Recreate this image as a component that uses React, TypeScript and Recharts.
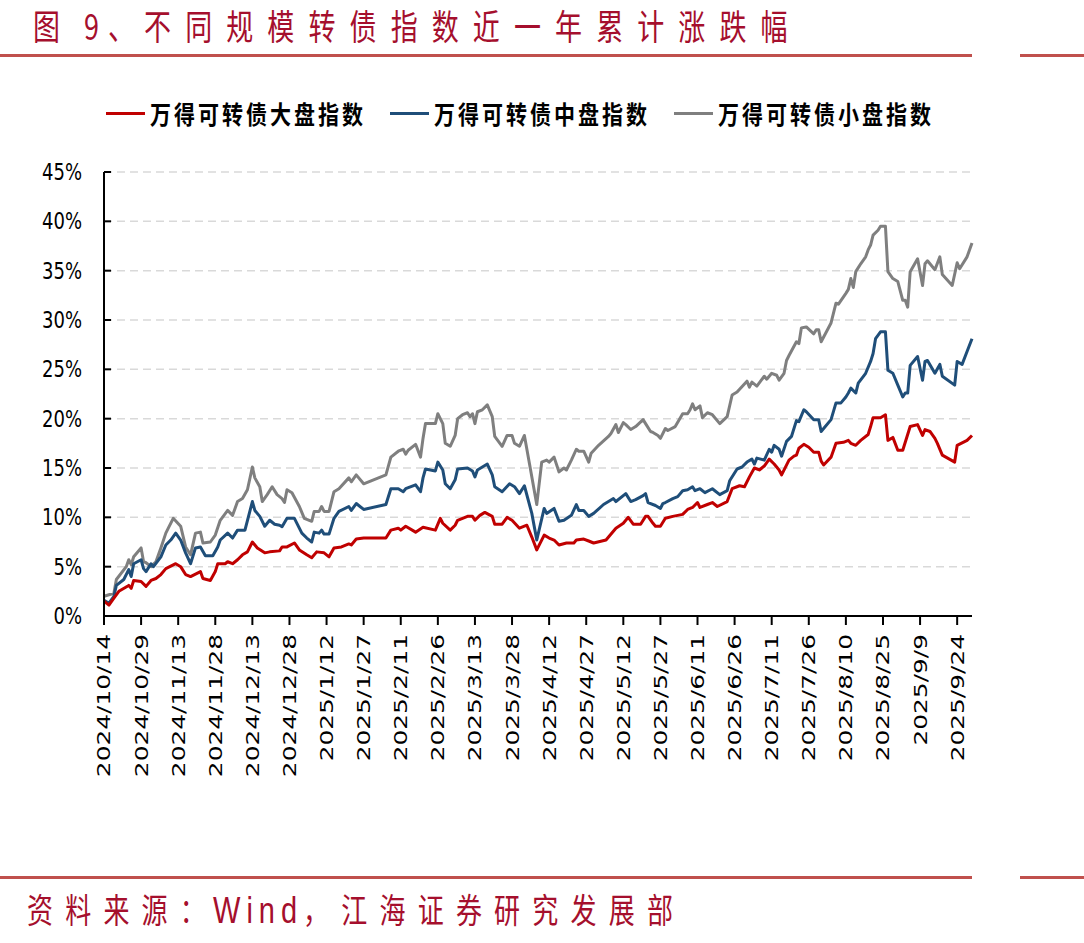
import React from "react";
import { LineChart, Line, XAxis, YAxis, CartesianGrid } from "recharts";

// ---------- data ----------
const xTickLabels = [
  "2024/10/14", "2024/10/29", "2024/11/13", "2024/11/28", "2024/12/13", "2024/12/28",
  "2025/1/12", "2025/1/27", "2025/2/11", "2025/2/26", "2025/3/13", "2025/3/28",
  "2025/4/12", "2025/4/27", "2025/5/12", "2025/5/27", "2025/6/11", "2025/6/26",
  "2025/7/11", "2025/7/26", "2025/8/10", "2025/8/25", "2025/9/9", "2025/9/24",
];
// days since 2024/10/14 for each tick label (every 15 calendar days)
const xTickDays = xTickLabels.map((_, i) => i * 15);
const lastDay = 351; // 2025/9/30
const yTicks = [0, 5, 10, 15, 20, 25, 30, 35, 40, 45];

// [days since 2024/10/14, cumulative change %]
const largeCap: [number, number][] = [
  [0, 1.5], [2, 1.1], [4, 1.8], [6, 2.5], [10, 3.1], [11, 2.8], [12, 3.6], [15, 3.5], [17, 3.0], [19, 3.6],
  [21, 3.8], [23, 4.2], [25, 4.8], [29, 5.3], [31, 5.0], [33, 4.2], [35, 4.0], [39, 4.5], [40, 3.8], [43, 3.6],
  [45, 4.5], [46, 5.3], [49, 5.3], [50, 5.5], [52, 5.3], [54, 5.7], [56, 6.2], [58, 6.5], [60, 7.5], [62, 6.9],
  [65, 6.4], [67, 6.5], [71, 6.6], [72, 7.0], [74, 7.0], [77, 7.4], [79, 6.7], [82, 6.2], [84, 5.9], [86, 6.5],
  [89, 6.4], [91, 6.0], [93, 6.9], [96, 7.0], [99, 7.3], [100, 7.2], [102, 7.8], [105, 7.9], [114, 7.9], [116, 8.7],
  [119, 8.9], [120, 8.7], [122, 9.1], [126, 8.5], [129, 9.0], [134, 8.7], [136, 9.9], [137, 9.4], [140, 8.7], [142, 9.2],
  [143, 9.7], [147, 10.1], [149, 10.1], [150, 9.7], [152, 10.2], [154, 10.5], [157, 10.1], [158, 9.3], [161, 9.3], [163, 10.0],
  [165, 9.7], [168, 8.9], [171, 9.2], [173, 8.0], [175, 6.7], [178, 8.2], [180, 7.9], [182, 7.7], [184, 7.2], [187, 7.4],
  [190, 7.4], [191, 7.7], [194, 7.8], [196, 7.6], [198, 7.4], [203, 7.7], [207, 8.9], [210, 9.4], [212, 10.0], [214, 9.3],
  [217, 9.3], [219, 10.1], [220, 10.1], [222, 9.4], [223, 9.1], [225, 9.1], [227, 9.9], [230, 10.1], [234, 10.3], [236, 10.8],
  [238, 11.0], [240, 11.5], [241, 11.0], [244, 11.3], [246, 11.5], [248, 11.1], [252, 11.6], [254, 12.9], [257, 13.2], [259, 13.1],
  [261, 14.1], [263, 15.0], [265, 14.8], [267, 15.2], [269, 15.9], [271, 15.4], [273, 14.8], [274, 14.3], [277, 15.8], [279, 16.2],
  [280, 16.3], [281, 17.0], [283, 17.4], [285, 17.1], [287, 16.6], [289, 16.6], [290, 15.7], [291, 15.3], [294, 16.1], [296, 17.5],
  [299, 17.6], [301, 17.8], [302, 17.5], [304, 17.3], [306, 17.8], [309, 18.4], [310, 19.2], [311, 20.1], [314, 20.1], [316, 20.4],
  [317, 17.8], [319, 18.1], [321, 16.8], [323, 16.8], [326, 19.2], [329, 19.4], [331, 18.3], [332, 18.9], [334, 18.7], [336, 18.0],
  [337, 17.5], [339, 16.3], [344, 15.6], [345, 17.3], [349, 17.8], [351, 18.3],
];

const midCap: [number, number][] = [
  [0, 1.6], [2, 1.3], [4, 2.0], [5, 3.1], [8, 3.7], [10, 4.7], [11, 4.0], [12, 5.3], [15, 5.7], [16, 4.8],
  [17, 4.5], [19, 5.3], [20, 5.0], [23, 6.0], [25, 7.2], [27, 7.7], [29, 8.4], [31, 7.7], [33, 6.4], [35, 5.3],
  [37, 6.9], [39, 7.0], [41, 6.1], [44, 6.1], [46, 7.0], [47, 7.7], [50, 8.4], [52, 7.9], [54, 8.7], [57, 8.7],
  [60, 11.6], [61, 10.7], [63, 10.1], [65, 9.1], [67, 9.7], [69, 9.3], [71, 9.2], [72, 9.05], [74, 9.9], [77, 9.9],
  [80, 8.4], [82, 7.9], [84, 7.5], [85, 8.5], [87, 8.4], [88, 8.7], [89, 8.3], [91, 8.3], [93, 9.9], [95, 10.6],
  [99, 11.1], [100, 10.7], [102, 11.4], [105, 10.8], [114, 11.3], [116, 12.9], [119, 12.9], [121, 12.6], [122, 12.9], [126, 13.3],
  [128, 12.6], [129, 14.0], [130, 14.9], [134, 14.7], [135, 15.6], [137, 14.8], [138, 13.4], [140, 12.9], [142, 13.8], [143, 14.9],
  [147, 15.0], [149, 14.7], [150, 14.1], [151, 14.8], [155, 15.4], [157, 14.3], [158, 13.1], [161, 12.6], [164, 13.4], [166, 13.1],
  [168, 12.4], [170, 13.2], [173, 10.4], [175, 7.7], [178, 10.9], [179, 10.4], [182, 10.9], [184, 9.6], [186, 9.7], [189, 10.2],
  [191, 11.3], [192, 10.7], [194, 10.7], [196, 10.1], [198, 10.4], [202, 11.3], [206, 11.9], [207, 11.6], [211, 12.4], [213, 11.6],
  [215, 11.8], [218, 12.2], [219, 12.4], [220, 11.5], [223, 11.2], [225, 10.9], [226, 11.4], [227, 11.5], [230, 11.9], [232, 12.1],
  [234, 12.7], [236, 12.8], [238, 13.1], [239, 12.7], [241, 12.9], [243, 12.5], [246, 12.9], [249, 12.3], [252, 12.7], [253, 13.7],
  [256, 14.9], [258, 15.1], [260, 15.6], [262, 15.9], [263, 15.4], [264, 16.0], [267, 15.8], [269, 16.9], [270, 16.6], [271, 17.3],
  [273, 16.9], [274, 16.2], [276, 17.7], [278, 18.2], [280, 19.8], [281, 19.7], [283, 20.9], [284, 20.7], [287, 19.9], [289, 19.9],
  [290, 18.7], [294, 19.9], [296, 21.6], [298, 21.6], [300, 22.2], [301, 22.6], [302, 23.1], [304, 22.6], [305, 23.6], [308, 24.6],
  [310, 25.8], [311, 26.6], [312, 28.1], [314, 28.8], [316, 28.8], [317, 24.9], [319, 24.6], [321, 23.4], [323, 22.2], [324, 22.6],
  [325, 22.6], [326, 25.4], [329, 26.3], [331, 23.9], [332, 25.8], [333, 25.9], [336, 24.6], [338, 25.5], [339, 24.3], [344, 23.4],
  [345, 25.8], [347, 25.5], [349, 26.8], [351, 28.1],
];

const smallCap: [number, number][] = [
  [0, 2.0], [4, 2.3], [5, 3.7], [9, 5.0], [10, 5.7], [11, 5.2], [12, 6.0], [15, 6.9], [16, 5.5], [17, 5.4],
  [19, 5.0], [21, 5.5], [23, 6.9], [25, 8.4], [26, 8.9], [28, 9.9], [31, 9.1], [33, 7.0], [35, 6.2], [37, 8.4],
  [39, 8.5], [40, 7.4], [43, 7.5], [45, 8.2], [47, 9.7], [50, 10.7], [52, 10.2], [54, 11.6], [56, 11.9], [58, 12.8],
  [60, 15.1], [61, 14.0], [63, 13.1], [64, 11.6], [66, 12.3], [68, 13.1], [70, 12.3], [72, 11.9], [73, 11.5], [74, 12.8],
  [76, 12.5], [79, 11.1], [81, 9.9], [84, 9.6], [85, 10.6], [87, 10.6], [88, 11.1], [89, 10.6], [91, 10.6], [93, 12.6],
  [95, 12.9], [99, 14.0], [100, 13.6], [102, 14.3], [105, 13.4], [114, 14.3], [116, 16.1], [119, 16.7], [121, 16.9], [122, 16.4],
  [123, 16.8], [126, 17.4], [128, 16.1], [129, 18.0], [130, 19.5], [134, 19.5], [135, 20.5], [137, 19.5], [138, 17.5], [140, 17.2],
  [142, 18.3], [143, 20.0], [145, 20.4], [147, 20.6], [148, 20.2], [149, 20.5], [150, 19.5], [151, 20.7], [153, 20.9], [155, 21.4],
  [157, 20.2], [158, 18.2], [161, 17.2], [163, 18.3], [165, 18.3], [166, 17.5], [168, 17.2], [170, 18.3], [172, 15.5], [175, 11.3],
  [177, 15.6], [179, 15.8], [180, 15.6], [182, 16.1], [184, 14.6], [186, 15.0], [187, 14.8], [189, 15.8], [191, 16.9], [192, 16.7],
  [194, 16.7], [196, 15.6], [197, 16.5], [200, 17.3], [204, 18.2], [205, 18.5], [207, 19.4], [208, 18.6], [210, 19.6], [211, 19.4],
  [213, 18.9], [215, 19.2], [218, 19.9], [219, 19.5], [221, 18.7], [222, 18.6], [224, 18.3], [225, 18.0], [227, 19.0], [228, 18.8],
  [231, 19.2], [234, 20.5], [236, 20.5], [237, 20.9], [238, 21.5], [239, 20.9], [241, 21.3], [242, 20.1], [244, 20.6], [246, 20.4],
  [249, 19.5], [252, 20.2], [254, 22.4], [256, 22.7], [260, 23.8], [261, 23.2], [262, 23.7], [264, 23.3], [267, 24.3], [268, 24.0],
  [270, 24.6], [272, 24.4], [273, 23.9], [275, 24.6], [276, 25.9], [277, 26.4], [280, 27.8], [281, 27.6], [282, 29.2], [284, 29.3],
  [287, 28.6], [288, 29.0], [289, 29.0], [290, 27.8], [294, 29.7], [296, 31.7], [297, 31.6], [300, 32.7], [301, 33.1], [302, 34.2],
  [303, 33.3], [304, 34.9], [306, 35.7], [308, 36.4], [309, 37.1], [310, 37.6], [311, 38.6], [313, 39.1], [314, 39.5], [316, 39.5],
  [317, 34.9], [319, 34.2], [321, 33.9], [323, 32.0], [324, 32.0], [325, 31.3], [326, 34.9], [329, 36.2], [331, 33.5], [332, 35.7],
  [333, 36.0], [336, 35.1], [338, 36.4], [339, 34.6], [343, 33.5], [345, 35.8], [346, 35.2], [349, 36.4], [351, 37.8],
];

const seriesNames = ["万得可转债大盘指数", "万得可转债中盘指数", "万得可转债小盘指数"];
const seriesColors = ["#C00000", "#1F4E79", "#7F7F7F"];
const seriesPoints = [largeCap, midCap, smallCap];

const titlePrefix = "图 9、";
const titleText = "不同规模转债指数近一年累计涨跌幅";
const sourcePrefix = "资料来源：";
const sourceName = "Wind";
const sourceSuffix = "，江海证券研究发展部";

// ---------- styles ----------
const W = 1084;
const H = 943;
const accent = "#A50F2D";
const ruleColor = "#C0504D";
const Y_TICK_MARGIN = 22;
const Y_TICK_LEN = 7;

const toRows = (pts: [number, number][]) => pts.map(([day, v]) => ({ day, v }));

const XTick = (props: any) => {
  const { x, y, payload } = props;
  const idx = xTickDays.indexOf(payload.value);
  return (
    <g transform={`translate(${x},${y + 7}) rotate(-90) scale(1.38,1)`}>
      <text x={0} y={0} textAnchor="end" dy="0.36em" fontSize={18} fontFamily="'DejaVu Sans', sans-serif" fill="#000">
        {xTickLabels[idx]}
      </text>
    </g>
  );
};

const YTick = (props: any) => {
  const { x, y, payload } = props;
  const axisX = x + Y_TICK_MARGIN;
  return (
    <g>
      <line x1={axisX} x2={axisX + Y_TICK_LEN} y1={y} y2={y} stroke="#000" strokeWidth={2} />
      <g transform={`translate(${x},${y}) scale(1,1.25)`}>
        <text x={0} y={0} textAnchor="end" dy="0.36em" fontSize={18} fontFamily="'DejaVu Sans', sans-serif" fill="#000">
          {payload.value}%
        </text>
      </g>
    </g>
  );
};

const stretched = (scale: number): React.CSSProperties => ({
  display: "inline-block",
  transform: `scaleY(${scale})`,
  transformOrigin: "left top",
  whiteSpace: "nowrap",
});

export default function App() {
  return (
    <div
      style={{
        position: "absolute",
        left: 0,
        top: 0,
        width: W,
        height: H,
        background: "#fff",
        overflow: "hidden",
        fontFamily: "'Noto Sans CJK SC', sans-serif",
      }}
    >
      {/* title */}
      <div style={{ position: "absolute", left: 33, top: 7, fontSize: 27, lineHeight: "27px", color: accent }}>
        <span style={stretched(1.32)}>
          <span style={{ letterSpacing: 9 }}>{titlePrefix}</span>
          <span style={{ letterSpacing: 14.1 }}>{titleText}</span>
        </span>
      </div>
      <div style={{ position: "absolute", left: 0, top: 54, width: 972, height: 3, background: ruleColor }} />
      <div style={{ position: "absolute", left: 1020, top: 54, width: 64, height: 3, background: ruleColor }} />

      {/* legend */}
      <div style={{ position: "absolute", left: 106, top: 101, display: "flex", alignItems: "flex-start" }}>
        {seriesNames.map((name, i) => (
          <div key={name} style={{ display: "flex", alignItems: "flex-start", marginRight: i < 2 ? 24 : 0 }}>
            <div style={{ width: 39, height: 3, background: seriesColors[i], marginTop: 11, marginRight: 5 }} />
            <div style={{ fontSize: 21, lineHeight: "21px", fontWeight: 700, color: "#000", letterSpacing: 3 }}>
              <span style={stretched(1.2)}>{name}</span>
            </div>
          </div>
        ))}
      </div>

      {/* chart */}
      <div style={{ position: "absolute", left: 0, top: 0 }}>
        <LineChart width={W} height={H} margin={{ top: 172, right: 112, bottom: 147, left: 0 }}>
          <CartesianGrid horizontal vertical={false} stroke="#D9D9D9" strokeWidth={1.5} strokeDasharray="8 5" />
          <XAxis
            type="number"
            dataKey="day"
            domain={[0, lastDay]}
            ticks={xTickDays}
            interval={0}
            height={180}
            tick={<XTick />}
            tickSize={9}
            tickLine={{ stroke: "#000", strokeWidth: 2 }}
            axisLine={{ stroke: "#000", strokeWidth: 2 }}
            allowDuplicatedCategory={false}
          />
          <YAxis
            type="number"
            domain={[0, 45]}
            ticks={yTicks}
            interval={0}
            width={104}
            tickSize={0}
            tickMargin={Y_TICK_MARGIN}
            tickLine={false}
            tick={<YTick />}
            axisLine={{ stroke: "#000", strokeWidth: 2 }}
          />
          {[2, 1, 0].map((i) => (
            <Line
              key={seriesNames[i]}
              data={toRows(seriesPoints[i])}
              dataKey="v"
              name={seriesNames[i]}
              type="linear"
              stroke={seriesColors[i]}
              strokeWidth={3}
              strokeLinejoin="round"
              dot={false}
              activeDot={false}
              isAnimationActive={false}
            />
          ))}
        </LineChart>
      </div>

      {/* source */}
      <div style={{ position: "absolute", left: 0, top: 876, width: 972, height: 3, background: ruleColor }} />
      <div style={{ position: "absolute", left: 1020, top: 876, width: 64, height: 3, background: ruleColor }} />
      <div style={{ position: "absolute", left: 27, top: 892, fontSize: 26, lineHeight: "26px", color: accent, letterSpacing: 12.2 }}>
        <span style={stretched(1.3)}>
          <span style={{ marginRight: -5 }}>{sourcePrefix}</span>
          <span style={{ fontFamily: "'Liberation Sans', Arial, sans-serif", fontSize: 29, letterSpacing: 6 }}>{sourceName}</span>
          {sourceSuffix}
        </span>
      </div>
    </div>
  );
}
